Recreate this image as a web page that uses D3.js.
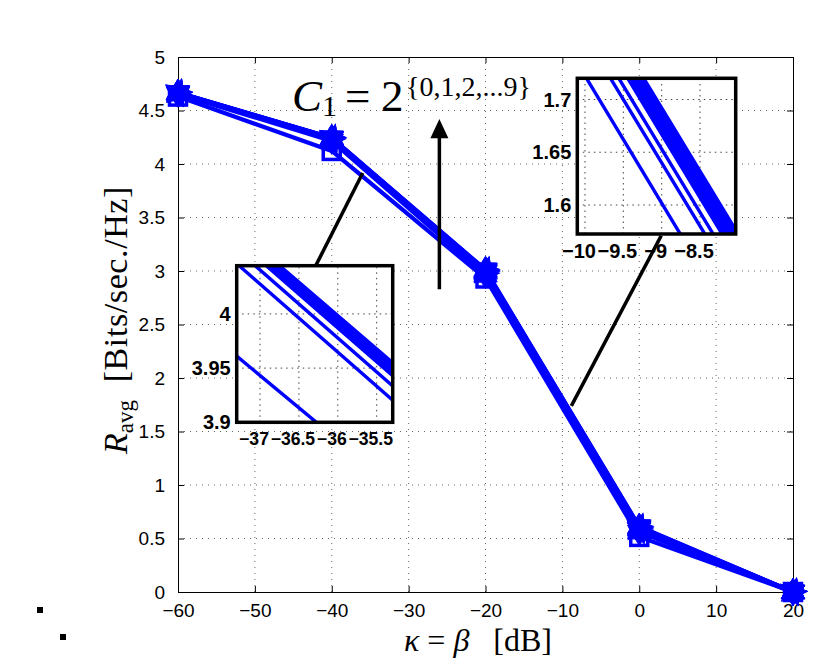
<!DOCTYPE html>
<html><head><meta charset="utf-8">
<script src="https://cdn.jsdelivr.net/npm/d3@7"></script>
<style>body{margin:0;background:#fff} svg{display:block}</style>
</head><body><svg id="c" width="821" height="665"></svg>
<script>
// ---- data ----
const kappa = [-60, -40, -20, 0, 20];
const c1Values = [1, 2, 4, 8, 16, 32, 64, 128, 256, 512];
const rate_c1_1   = [4.630, 4.122, 2.930, 0.515, 0.0];
const rate_c1_2   = [4.655, 4.216, 2.960, 0.560, 0.0];
const rate_c1_4   = [4.660, 4.229, 2.973, 0.573, 0.0];
const rate_c1_8   = [4.662, 4.237, 2.987, 0.587, 0.0];
const rate_c1_16  = [4.663, 4.238, 2.991, 0.591, 0.0];
const rate_c1_32  = [4.664, 4.239, 2.995, 0.595, 0.0];
const rate_c1_64  = [4.665, 4.241, 3.000, 0.600, 0.0];
const rate_c1_128 = [4.666, 4.242, 3.004, 0.604, 0.0];
const rate_c1_256 = [4.667, 4.243, 3.008, 0.608, 0.0];
const rate_c1_512 = [4.668, 4.245, 3.012, 0.612, 0.0];
const seriesList = [rate_c1_1, rate_c1_2, rate_c1_4, rate_c1_8, rate_c1_16,
                    rate_c1_32, rate_c1_64, rate_c1_128, rate_c1_256, rate_c1_512];
const xTicks = [-60, -50, -40, -30, -20, -10, 0, 10, 20];
const yTicks = [0, 0.5, 1, 1.5, 2, 2.5, 3, 3.5, 4, 4.5, 5];
const yTickLabels = ["0", "0.5", "1", "1.5", "2", "2.5", "3", "3.5", "4", "4.5", "5"];
const inset1XTicks = [-37, -36.5, -36, -35.5];
const inset1YTicks = [3.9, 3.95, 4];
const inset1YLabels = ["3.9", "3.95", "4"];
const inset2XTicks = [-10, -9.5, -9, -8.5];
const inset2YTicks = [1.6, 1.65, 1.7];
const inset2YLabels = ["1.6", "1.65", "1.7"];

const BLUE = "#0000ff";
const svg = d3.select("#c");
const minus = s => String(s).replace("-", "\u2212");

// ---- main axes ----
const x = d3.scaleLinear().domain([-60, 20]).range([178, 793]);
const y = d3.scaleLinear().domain([0, 5]).range([592, 57]);

const grid = svg.append("g");
grid.selectAll(".gx").data(xTicks.slice(1, -1)).join("line")
  .attr("x1", d => x(d)).attr("x2", d => x(d)).attr("y1", y(0)).attr("y2", y(5))
  .attr("stroke", "#666").attr("stroke-width", 1).attr("stroke-dasharray", "1,5");
grid.selectAll(".gy").data(yTicks.slice(1, -1)).join("line")
  .attr("y1", d => y(d)).attr("y2", d => y(d)).attr("x1", x(-60)).attr("x2", x(20))
  .attr("stroke", "#666").attr("stroke-width", 1).attr("stroke-dasharray", "1,5");

const font = "'Liberation Sans', Arial, Helvetica, sans-serif";
const xAxis = svg.append("g").attr("transform", `translate(0,${y(0)})`)
  .call(d3.axisBottom(x).tickValues(xTicks).tickSizeInner(-6).tickSizeOuter(0).tickPadding(12).tickFormat(minus));
const yAxis = svg.append("g").attr("transform", `translate(${x(-60)},0)`)
  .call(d3.axisLeft(y).tickValues(yTicks).tickSizeInner(-6).tickSizeOuter(0).tickPadding(13)
        .tickFormat((d, i) => yTickLabels[i]));
svg.append("g").attr("transform", `translate(0,${y(5)})`)
  .call(d3.axisTop(x).tickValues(xTicks).tickSizeInner(-6).tickSizeOuter(0).tickFormat(""));
svg.append("g").attr("transform", `translate(${x(20)},0)`)
  .call(d3.axisRight(y).tickValues(yTicks).tickSizeInner(-6).tickSizeOuter(0).tickFormat(""));
svg.selectAll(".domain").attr("stroke", "#000").attr("stroke-width", 1);
svg.selectAll(".tick line").attr("stroke", "#000");
svg.selectAll(".tick text").attr("font-family", font).attr("font-size", 19).attr("fill", "#000");
xAxis.selectAll(".tick text").attr("dy", "0.71em");

// ---- markers ----
function starPath(n, R, r) {
  const pts = [];
  for (let k = 0; k < 2 * n; k++) {
    const a = -Math.PI / 2 + k * Math.PI / n;
    const rr = k % 2 === 0 ? R : r;
    pts.push([rr * Math.cos(a), rr * Math.sin(a)]);
  }
  return "M" + pts.map(p => p[0].toFixed(2) + "," + p[1].toFixed(2)).join("L") + "Z";
}
const hexagram = starPath(6, 13.5, 8);
const pentagram = starPath(5, 14, 6.5);

const line = d3.line().x((d, i) => x(kappa[i])).y(d => y(d));
const plotG = svg.append("g");
seriesList.forEach((s, si) => {
  plotG.append("path").datum(s).attr("d", line)
    .attr("fill", "none").attr("stroke", BLUE).attr("stroke-width", 4.2)
    .attr("stroke-linejoin", "round");
  if (si === 0) {
    plotG.selectAll(null).data(s).join("rect")
      .attr("x", (d, i) => x(kappa[i]) - 8.5).attr("y", d => y(d) - 8.5)
      .attr("width", 17).attr("height", 17)
      .attr("fill", "none").attr("stroke", BLUE).attr("stroke-width", 3.5);
  } else {
    plotG.selectAll(null).data(s).join("path")
      .attr("transform", (d, i) => `translate(${x(kappa[i])},${y(d)}) rotate(${si % 2 ? 0 : 15})`)
      .attr("d", si % 2 ? hexagram : pentagram)
      .attr("fill", BLUE).attr("stroke", BLUE).attr("stroke-width", 1);
  }
});

// ---- annotations: arrow and connectors (in data coordinates) ----
const ann = svg.append("g");
ann.append("line").attr("x1", x(-26)).attr("y1", y(2.83)).attr("x2", x(-26)).attr("y2", y(4.26))
  .attr("stroke", "#000").attr("stroke-width", 3.5);
ann.append("path")
  .attr("d", `M${x(-26)},${y(4.42)} L${x(-26) - 9},${y(4.24)} L${x(-26) + 9},${y(4.24)} Z`)
  .attr("fill", "#000");
ann.append("line").attr("x1", x(-42.08)).attr("y1", y(3.05)).attr("x2", x(-35.97)).attr("y2", y(3.916))
  .attr("stroke", "#000").attr("stroke-width", 3.5);
ann.append("line").attr("x1", x(2.86)).attr("y1", y(3.33)).attr("x2", x(-8.83)).attr("y2", y(1.74))
  .attr("stroke", "#000").attr("stroke-width", 3.5);

// ---- insets ----
function inset(id, xd, xr, yd, yr, xt, yt, ytl, xfs) {
  const sx = d3.scaleLinear().domain(xd).range(xr);
  const sy = d3.scaleLinear().domain(yd).range(yr);
  const g = svg.append("g");
  g.append("rect").attr("x", xr[0]).attr("y", yr[1]).attr("width", xr[1] - xr[0]).attr("height", yr[0] - yr[1])
    .attr("fill", "#fff");
  g.selectAll(".vx").data(xt).join("line")
    .attr("x1", d => sx(d)).attr("x2", d => sx(d)).attr("y1", yr[0]).attr("y2", yr[1])
    .attr("stroke", "#444").attr("stroke-dasharray", "1.5,4");
  g.selectAll(".hy").data(yt).join("line")
    .attr("y1", d => sy(d)).attr("y2", d => sy(d)).attr("x1", xr[0]).attr("x2", xr[1])
    .attr("stroke", "#444").attr("stroke-dasharray", "1.5,4");
  const clip = svg.append("clipPath").attr("id", id);
  clip.append("rect").attr("x", xr[0]).attr("y", yr[1]).attr("width", xr[1] - xr[0]).attr("height", yr[0] - yr[1]);
  const l2 = d3.line().x((d, i) => sx(kappa[i])).y(d => sy(d));
  const lg = g.append("g").attr("clip-path", `url(#${id})`);
  seriesList.forEach(s => {
    lg.append("path").datum(s).attr("d", l2).attr("fill", "none")
      .attr("stroke", BLUE).attr("stroke-width", 3.4);
  });
  g.append("rect").attr("x", xr[0]).attr("y", yr[1]).attr("width", xr[1] - xr[0]).attr("height", yr[0] - yr[1])
    .attr("fill", "none").attr("stroke", "#000").attr("stroke-width", 3.5);
  g.selectAll(".xl").data(xt).join("text")
    .attr("x", d => sx(d) - 6).attr("y", yr[0] + 17).attr("dy", "0.35em")
    .attr("text-anchor", "middle").attr("font-family", font).attr("font-weight", "bold")
    .attr("font-size", xfs).text(d => minus(d));
  g.selectAll(".yl").data(yt).join("text")
    .attr("x", xr[0] - 6).attr("y", d => sy(d)).attr("dy", "0.35em")
    .attr("text-anchor", "end").attr("font-family", font).attr("font-weight", "bold")
    .attr("font-size", 20).text((d, i) => ytl[i]);
}
inset("clip1", [-37.30, -35.294], [236.7, 392.7], [3.9, 4.0445], [422.3, 265.7],
      inset1XTicks, inset1YTicks, inset1YLabels, 17.6);
inset("clip2", [-10.10, -8.035], [577.3, 735.7], [1.5725, 1.7201], [234, 78.3],
      inset2XTicks, inset2YTicks, inset2YLabels, 20);

// ---- text labels ----
const serif = "'Liberation Serif', 'Times New Roman', serif";
const t = svg.append("g").attr("font-family", serif).attr("fill", "#000");
t.append("text").attr("x", 292).attr("y", 111).attr("font-size", 45).attr("font-style", "italic").text("C");
t.append("text").attr("x", 322).attr("y", 116).attr("font-size", 30).text("1");
t.append("text").attr("x", 345).attr("y", 111).attr("font-size", 45).text("=");
t.append("text").attr("x", 381).attr("y", 111).attr("font-size", 45).text("2");
t.append("text").attr("x", 406).attr("y", 96).attr("font-size", 28).text("{0,1,2,...9}");

const xl = t.append("text").attr("x", 478).attr("y", 651).attr("text-anchor", "middle").attr("font-size", 32);
xl.append("tspan").attr("font-style", "italic").text("\u03ba");
xl.append("tspan").text(" = ");
xl.append("tspan").attr("font-style", "italic").text("\u03b2");
xl.append("tspan").text("\u2002 [dB]");

const yl = t.append("text").attr("transform", "translate(127,320) rotate(-90)")
  .attr("text-anchor", "middle").attr("font-size", 34);
yl.append("tspan").attr("font-style", "italic").text("R");
yl.append("tspan").attr("font-size", 23).attr("dy", 6).text("avg");
yl.append("tspan").attr("dy", -6).attr("letter-spacing", 0.6).text("\u2002[Bits/sec./Hz]");

// ---- stray marks in the lower-left corner ----
const dots = [[37, 607], [60, 634]];
svg.selectAll(".dot").data(dots).join("rect")
  .attr("x", d => d[0]).attr("y", d => d[1]).attr("width", 6).attr("height", 6).attr("fill", "#000");
</script></body></html>
